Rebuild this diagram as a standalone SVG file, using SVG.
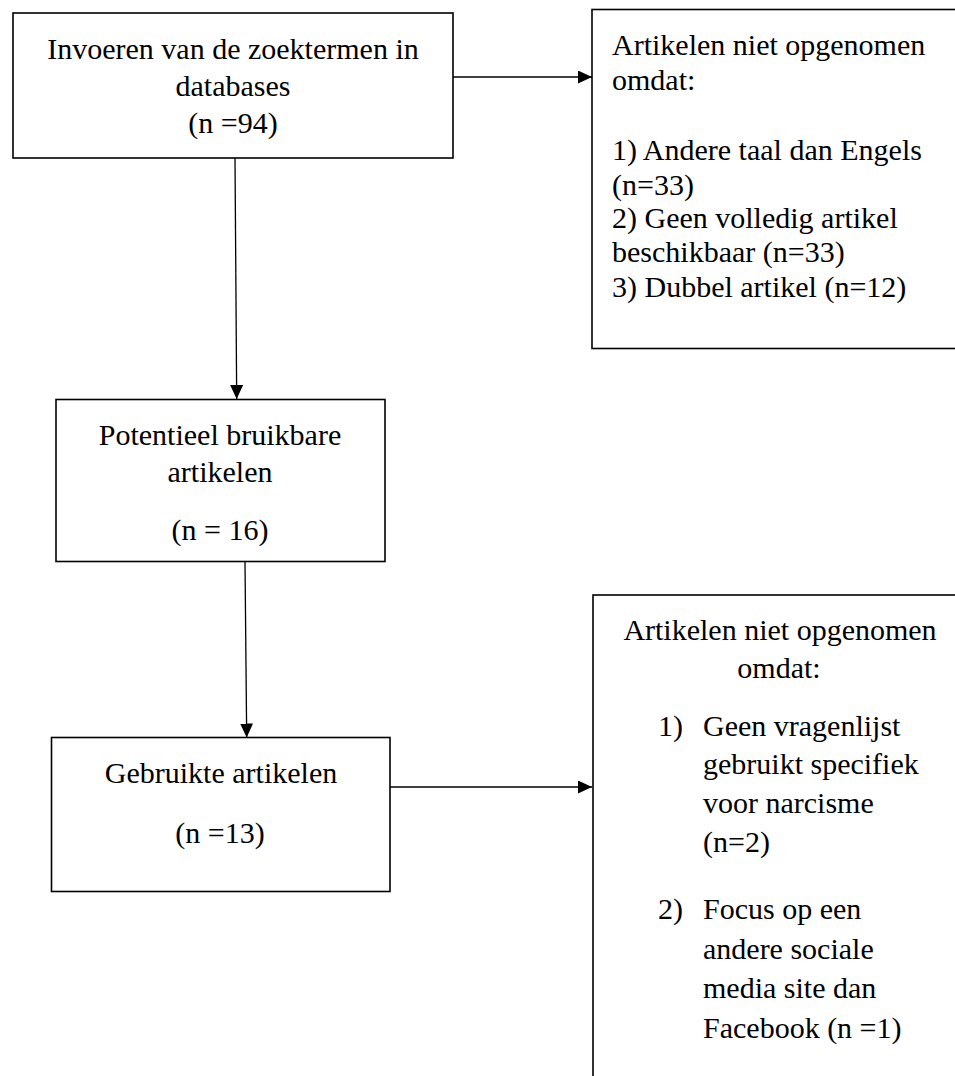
<svg xmlns="http://www.w3.org/2000/svg" width="955" height="1076" viewBox="0 0 955 1076">
<style>
.box{fill:#fff;stroke:#000;stroke-width:1.6}
.t{font-family:"Liberation Serif","Times New Roman",serif;font-size:30px;fill:#000}
.c{text-anchor:middle}
.conn{stroke:#000;stroke-width:1.3;fill:none}
</style>
<defs>
<marker id="ah" markerUnits="userSpaceOnUse" markerWidth="14" markerHeight="13" refX="14" refY="6.5" orient="auto">
<path d="M0,0 L14,6.5 L0,13 z" fill="#000"/>
</marker>
</defs>
<rect width="955" height="1076" fill="#fff"/>
<g id="connectors">
<line class="conn" x1="453" y1="77" x2="592" y2="77" marker-end="url(#ah)"/>
<line class="conn" x1="235" y1="158" x2="236.7" y2="399" marker-end="url(#ah)"/>
<line class="conn" x1="245" y1="562" x2="246.7" y2="737.5" marker-end="url(#ah)"/>
<line class="conn" x1="390" y1="787" x2="592" y2="787" marker-end="url(#ah)"/>
</g>
<g id="node-invoeren">
<rect class="box" x="13" y="13" width="440" height="145"/>
<text class="t c" x="233" y="59">Invoeren van de zoektermen in</text>
<text class="t c" x="233" y="96">databases</text>
<text class="t c" x="233" y="133">(n =94)</text>
</g>
<g id="node-excluded1">
<rect class="box" x="592" y="9.5" width="400" height="339"/>
<text class="t" x="612" y="55">Artikelen niet opgenomen</text>
<text class="t" x="612" y="90">omdat:</text>
<text class="t" x="612" y="160">1) Andere taal dan Engels</text>
<text class="t" x="612" y="195">(n=33)</text>
<text class="t" x="612" y="228">2) Geen volledig artikel</text>
<text class="t" x="612" y="262">beschikbaar (n=33)</text>
<text class="t" x="612" y="297">3) Dubbel artikel (n=12)</text>
</g>
<g id="node-potentieel">
<rect class="box" x="56" y="399.5" width="329" height="162"/>
<text class="t c" x="220" y="445">Potentieel bruikbare</text>
<text class="t c" x="220" y="482">artikelen</text>
<text class="t c" x="220" y="540">(n = 16)</text>
</g>
<g id="node-gebruikt">
<rect class="box" x="51.5" y="737.5" width="338.5" height="154"/>
<text class="t c" x="221" y="783">Gebruikte artikelen</text>
<text class="t c" x="220" y="843">(n =13)</text>
</g>
<g id="node-excluded2">
<rect class="box" x="593" y="595" width="400" height="500"/>
<text class="t c" x="780" y="640">Artikelen niet opgenomen</text>
<text class="t c" x="779" y="678">omdat:</text>
<text class="t" x="658" y="735.5">1)</text>
<text class="t" x="703" y="735.5">Geen vragenlijst</text>
<text class="t" x="703" y="774">gebruikt specifiek</text>
<text class="t" x="703" y="813">voor narcisme</text>
<text class="t" x="703" y="852">(n=2)</text>
<text class="t" x="658" y="919">2)</text>
<text class="t" x="703" y="919">Focus op een</text>
<text class="t" x="703" y="959">andere sociale</text>
<text class="t" x="703" y="998">media site dan</text>
<text class="t" x="703" y="1037.5">Facebook (n =1)</text>
</g>
</svg>
